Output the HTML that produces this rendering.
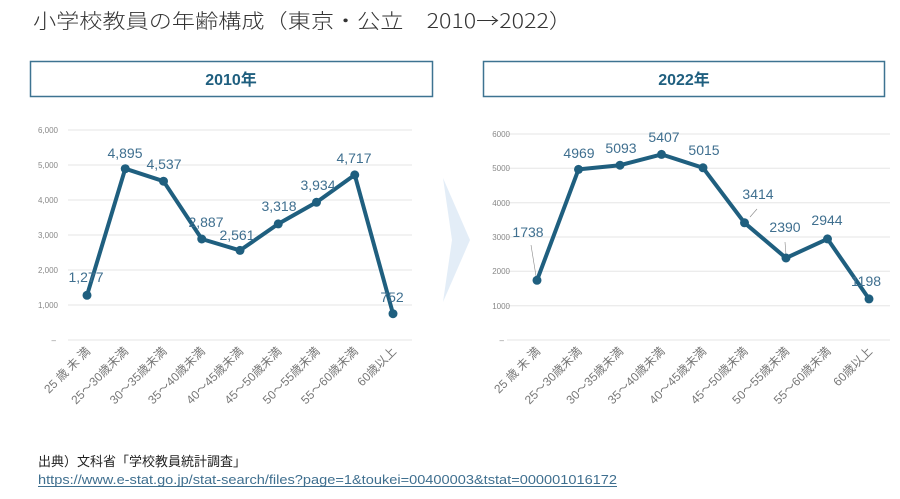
<!DOCTYPE html>
<html><head><meta charset="utf-8"><style>
body{margin:0;background:#fff;width:900px;height:499px;overflow:hidden;}
svg{display:block;font-family:"Liberation Sans","Noto Sans CJK JP",sans-serif;}
</style></head><body>
<svg width="900" height="499" viewBox="0 0 900 499">
<text x="33" y="28" font-size="20" fill="#333" font-family="Noto Sans CJK JP, sans-serif" font-weight="300" textLength="539" lengthAdjust="spacingAndGlyphs">小学校教員の年齢構成（東京・公立　2010→2022）</text>
<rect x="30.5" y="61.5" width="402" height="35" fill="#fff" stroke="#3d7391" stroke-width="1.5"/>
<text x="231" y="85" font-size="16" font-weight="bold" fill="#1f5f7f" text-anchor="middle">2010年</text>
<rect x="483.5" y="61.5" width="401" height="35" fill="#fff" stroke="#3d7391" stroke-width="1.5"/>
<text x="684" y="85" font-size="16" font-weight="bold" fill="#1f5f7f" text-anchor="middle">2022年</text>
<polygon points="443,178 470,240 443,302 452,240" fill="#e3edf7"/>
<g stroke="#e6e6e6" stroke-width="1">
<line x1="68" x2="412" y1="130" y2="130"/><line x1="68" x2="412" y1="165" y2="165"/><line x1="68" x2="412" y1="200" y2="200"/><line x1="68" x2="412" y1="235" y2="235"/><line x1="68" x2="412" y1="270" y2="270"/><line x1="68" x2="412" y1="305" y2="305"/><line x1="68" x2="412" y1="340" y2="340"/>
<line x1="507" x2="890" y1="134" y2="134"/><line x1="507" x2="890" y1="168.3" y2="168.3"/><line x1="507" x2="890" y1="202.7" y2="202.7"/><line x1="507" x2="890" y1="237" y2="237"/><line x1="507" x2="890" y1="271.3" y2="271.3"/><line x1="507" x2="890" y1="305.7" y2="305.7"/><line x1="507" x2="890" y1="340" y2="340"/>
</g>
<g font-size="8" fill="#888" text-anchor="end">
<text x="58" y="133">6,000</text><text x="58" y="168">5,000</text><text x="58" y="203">4,000</text><text x="58" y="238">3,000</text><text x="58" y="273">2,000</text><text x="58" y="308">1,000</text><text x="56" y="343">–</text>
<text x="510" y="137">6000</text><text x="510" y="171">5000</text><text x="510" y="206">4000</text><text x="510" y="240">3000</text><text x="510" y="274">2000</text><text x="510" y="309">1000</text><text x="504" y="343">–</text>
</g>
<g stroke="#888" stroke-width="0.6">
<line x1="531" y1="245" x2="536" y2="276"/><line x1="750" y1="217" x2="757" y2="209"/><line x1="786" y1="255" x2="785" y2="242"/>
</g>
<polyline fill="none" stroke="#1f5f7f" stroke-width="4" stroke-linejoin="round" points="87,295.3 125.25,168.7 163.5,181.2 201.75,239 240,250.4 278.25,223.9 316.5,202.3 354.75,174.9 393,313.7"/>
<g fill="#1f5f7f"><circle cx="87" cy="295.3" r="4.5"/><circle cx="125.25" cy="168.7" r="4.5"/><circle cx="163.5" cy="181.2" r="4.5"/><circle cx="201.75" cy="239" r="4.5"/><circle cx="240" cy="250.4" r="4.5"/><circle cx="278.25" cy="223.9" r="4.5"/><circle cx="316.5" cy="202.3" r="4.5"/><circle cx="354.75" cy="174.9" r="4.5"/><circle cx="393" cy="313.7" r="4.5"/></g>
<polyline fill="none" stroke="#1f5f7f" stroke-width="4" stroke-linejoin="round" points="537,280.3 578.5,169.4 620,165.2 661.5,154.4 703,167.8 744.5,222.8 786,258 827.5,238.9 869,298.9"/>
<g fill="#1f5f7f"><circle cx="537" cy="280.3" r="4.5"/><circle cx="578.5" cy="169.4" r="4.5"/><circle cx="620" cy="165.2" r="4.5"/><circle cx="661.5" cy="154.4" r="4.5"/><circle cx="703" cy="167.8" r="4.5"/><circle cx="744.5" cy="222.8" r="4.5"/><circle cx="786" cy="258" r="4.5"/><circle cx="827.5" cy="238.9" r="4.5"/><circle cx="869" cy="298.9" r="4.5"/></g>
<g font-size="14" fill="#3f6f8f" text-anchor="middle">
<text x="86" y="282">1,277</text><text x="125" y="158">4,895</text><text x="164" y="169">4,537</text><text x="206" y="227">2,887</text><text x="237" y="240">2,561</text><text x="279" y="211">3,318</text><text x="318" y="190">3,934</text><text x="354" y="163">4,717</text><text x="392" y="302">752</text>
<text x="528" y="237">1738</text><text x="579" y="158">4969</text><text x="621" y="153">5093</text><text x="664" y="142">5407</text><text x="704" y="155">5015</text><text x="758" y="199">3414</text><text x="785" y="232">2390</text><text x="827" y="225">2944</text><text x="866" y="286">1198</text>
</g>
<g font-size="12" fill="#777" text-anchor="end">
<text transform="translate(91,352) rotate(-45)">25 歳 未 満</text><text transform="translate(129,352) rotate(-45)">25～30歳未満</text><text transform="translate(167.5,352) rotate(-45)">30～35歳未満</text><text transform="translate(205.75,352) rotate(-45)">35～40歳未満</text><text transform="translate(244,352) rotate(-45)">40～45歳未満</text><text transform="translate(282.25,352) rotate(-45)">45～50歳未満</text><text transform="translate(320.5,352) rotate(-45)">50～55歳未満</text><text transform="translate(358.75,352) rotate(-45)">55～60歳未満</text><text transform="translate(397,352) rotate(-45)">60歳以上</text>
<text transform="translate(541,352) rotate(-45)">25 歳 未 満</text><text transform="translate(582.5,352) rotate(-45)">25～30歳未満</text><text transform="translate(624,352) rotate(-45)">30～35歳未満</text><text transform="translate(665.5,352) rotate(-45)">35～40歳未満</text><text transform="translate(707,352) rotate(-45)">40～45歳未満</text><text transform="translate(748.5,352) rotate(-45)">45～50歳未満</text><text transform="translate(790,352) rotate(-45)">50～55歳未満</text><text transform="translate(831.5,352) rotate(-45)">55～60歳未満</text><text transform="translate(873,352) rotate(-45)">60歳以上</text>
</g>
<text x="38" y="466" font-size="13" fill="#222">出典）文科省「学校教員統計調査」</text>
<text x="38" y="484" font-size="13" fill="#3f6f8f" textLength="579" lengthAdjust="spacingAndGlyphs">https://www.e-stat.go.jp/stat-search/files?page=1&amp;toukei=00400003&amp;tstat=000001016172</text>
<line x1="38" x2="617" y1="486.5" y2="486.5" stroke="#3f6f8f" stroke-width="1"/>
</svg>
</body></html>
